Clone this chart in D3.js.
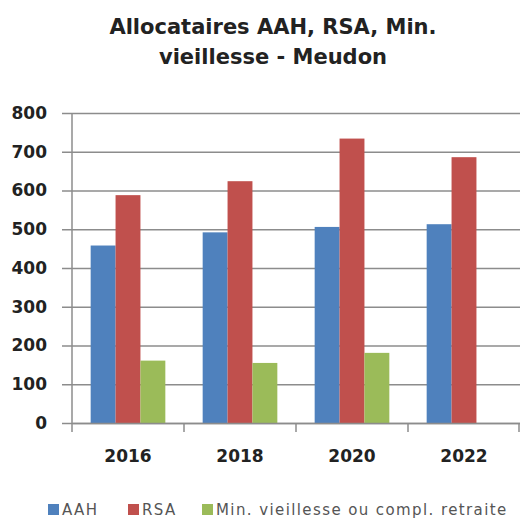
<!DOCTYPE html>
<html>
<head>
<meta charset="utf-8">
<script src="https://cdn.jsdelivr.net/npm/d3@7"></script>
<style>
  body { margin: 0; background: #fff; }
  svg { display: block; font-family: "DejaVu Sans", sans-serif; }
</style>
</head>
<body>
<div id="chart"></div>
<script>
const YEARS = ["2016", "2018", "2020", "2022"];
const SERIES = ["AAH", "RSA", "Min. vieillesse ou compl. retraite"];
const AAH = [458, 492, 506, 513];
const RSA = [588, 624, 734, 686];
const MIN_VIEILLESSE = [161, 155, 181, null];
const Y_TICKS = [0, 100, 200, 300, 400, 500, 600, 700, 800];
const COLORS = ["#4F81BD", "#C0504D", "#9BBB59"];

const W = 520, H = 518;
const margin = { top: 113, right: 0, bottom: 95, left: 72 };
const innerW = W - margin.left - margin.right;
const innerH = H - margin.top - margin.bottom;

const values = [AAH, RSA, MIN_VIEILLESSE];
const rows = YEARS.map((y, i) => ({
  year: y,
  bars: SERIES.map((s, k) => ({ key: s, value: values[k][i], k }))
}));

const svg = d3.select("#chart").append("svg")
  .attr("width", W)
  .attr("height", H);

// Title (two lines, as in the original)
[["Allocataires AAH, RSA, Min.", 34], ["vieillesse - Meudon", 64]].forEach(([t, ty]) => {
  svg.append("text")
    .attr("x", 273).attr("y", ty)
    .attr("text-anchor", "middle")
    .attr("font-size", 21).attr("font-weight", 700)
    .attr("fill", "#222")
    .text(t);
});

const g = svg.append("g").attr("transform", `translate(${margin.left},${margin.top})`);

const x0 = d3.scaleBand().domain(YEARS).range([0, innerW]).paddingInner(0).paddingOuter(0);
// Excel gap width 150%: bar = band / (3 + 1.5)
const barW = x0.bandwidth() / 4.5;
const x1 = d3.scaleBand().domain(SERIES).range([barW * 0.75, barW * 3.75]).padding(0);

const y = d3.scaleLinear().domain([0, 800]).range([innerH, 0]);

// Y gridlines + ticks
g.append("g")
  .call(d3.axisLeft(y).tickValues(Y_TICKS).tickSize(10).tickPadding(15).tickFormat(d3.format("d")))
  .attr("font-family", null)
  .call(ax => ax.select(".domain").remove())
  .call(ax => ax.selectAll(".tick line").attr("x1", -10).attr("x2", innerW).attr("stroke", "#8c8c8c").attr("stroke-width", 1.5))
  .call(ax => ax.selectAll("text")
    .attr("font-size", 17).attr("font-weight", 700).attr("fill", "#222"));

// Bars
const groups = g.selectAll(".grp")
  .data(rows)
  .join("g")
  .attr("class", "grp")
  .attr("transform", d => `translate(${x0(d.year)},0)`);

groups.selectAll("rect")
  .data(d => d.bars.filter(b => b.value != null))
  .join("rect")
  .attr("x", d => x1(d.key))
  .attr("width", x1.bandwidth())
  .attr("y", d => y(d.value))
  .attr("height", d => innerH - y(d.value))
  .attr("fill", d => COLORS[d.k]);

// Y axis line
g.append("line")
  .attr("x1", 0).attr("x2", 0).attr("y1", 0).attr("y2", innerH + 9)
  .attr("stroke", "#8c8c8c").attr("stroke-width", 1.5);

// X axis
g.append("g")
  .attr("transform", `translate(0,${innerH})`)
  .call(d3.axisBottom(x0).tickSize(0).tickPadding(27))
  .attr("font-family", null)
  .call(ax => ax.select(".domain").attr("stroke", "#8c8c8c").attr("stroke-width", 1.5))
  .call(ax => ax.selectAll("text")
    .attr("font-size", 17).attr("font-weight", 700).attr("fill", "#222"));

// Category boundary ticks
g.append("g")
  .selectAll("line")
  .data(YEARS.slice(1).concat(["end"]))
  .join("line")
  .attr("x1", d => d === "end" ? innerW - 1 : x0(d))
  .attr("x2", d => d === "end" ? innerW - 1 : x0(d))
  .attr("y1", innerH).attr("y2", innerH + 9)
  .attr("stroke", "#8c8c8c").attr("stroke-width", 1.5);

// Legend
const legendX = [48, 128, 202];
const legend = svg.append("g").attr("transform", "translate(0,515)");
SERIES.forEach((s, k) => {
  legend.append("rect")
    .attr("x", legendX[k]).attr("y", -11)
    .attr("width", 11).attr("height", 11)
    .attr("fill", COLORS[k]);
  legend.append("text")
    .attr("x", legendX[k] + 14).attr("y", 0)
    .attr("font-size", 15).attr("letter-spacing", 1.4).attr("fill", "#555")
    .text(s);
});
</script>
</body>
</html>
